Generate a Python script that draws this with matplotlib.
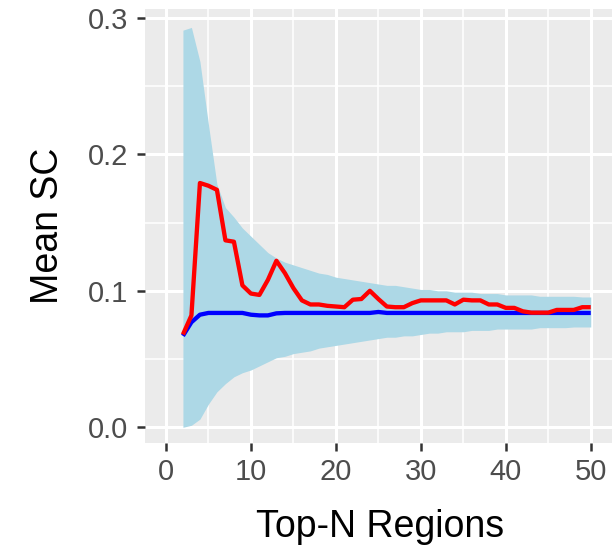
import matplotlib
matplotlib.use("Agg")
import matplotlib.pyplot as plt
from matplotlib.ticker import MultipleLocator

top_n = list(range(2, 51))
ribbon_upper = [0.291, 0.293, 0.268, 0.222, 0.178, 0.161, 0.154, 0.146, 0.140, 0.134,
                0.128, 0.124, 0.121, 0.119, 0.117, 0.115, 0.113, 0.112, 0.110, 0.109,
                0.108, 0.107, 0.106, 0.105, 0.104, 0.104, 0.103, 0.102, 0.101, 0.101,
                0.100, 0.100, 0.099, 0.099, 0.099, 0.098, 0.098, 0.098, 0.097, 0.097,
                0.097, 0.097, 0.096, 0.096, 0.096, 0.096, 0.096, 0.0955, 0.0955]
ribbon_lower = [0.000, 0.0015, 0.006, 0.017, 0.026, 0.032, 0.037, 0.040, 0.042, 0.045,
                0.048, 0.051, 0.052, 0.054, 0.055, 0.056, 0.058, 0.059, 0.060, 0.061,
                0.062, 0.063, 0.064, 0.065, 0.066, 0.066, 0.067, 0.067, 0.068, 0.069,
                0.069, 0.070, 0.070, 0.070, 0.071, 0.071, 0.071, 0.072, 0.072, 0.072,
                0.072, 0.072, 0.073, 0.073, 0.073, 0.073, 0.0735, 0.0735, 0.0735]
observed_sc = [0.068, 0.082, 0.179, 0.177, 0.174, 0.137, 0.136, 0.104, 0.098, 0.097,
               0.108, 0.122, 0.113, 0.102, 0.093, 0.090, 0.090, 0.089, 0.0885, 0.088,
               0.0935, 0.094, 0.100, 0.094, 0.0885, 0.088, 0.088, 0.091, 0.093, 0.093,
               0.093, 0.093, 0.090, 0.0935, 0.093, 0.093, 0.090, 0.090, 0.0875, 0.0875,
               0.085, 0.084, 0.084, 0.084, 0.086, 0.086, 0.086, 0.088, 0.088]
expected_sc = [0.067, 0.077, 0.0825, 0.0838, 0.0838, 0.0838, 0.0838, 0.0838, 0.0825, 0.082,
               0.082, 0.0835, 0.0838, 0.0838, 0.0838, 0.0838, 0.0838, 0.0838, 0.0838, 0.0838,
               0.0838, 0.0838, 0.0838, 0.0845, 0.0838, 0.0838, 0.0838, 0.0838, 0.0838, 0.0838,
               0.0838, 0.0838, 0.0838, 0.0838, 0.0838, 0.0838, 0.0838, 0.0838, 0.0838, 0.0838,
               0.0838, 0.0838, 0.0838, 0.0838, 0.0838, 0.0838, 0.0838, 0.0838, 0.0838]
x_ticks = [0, 10, 20, 30, 40, 50]
y_ticks = [0.0, 0.1, 0.2, 0.3]
x_label = "Top-N Regions"
y_label = "Mean SC"

plt.rcParams['font.family'] = ['Liberation Sans', 'DejaVu Sans']

W, H = 615, 555
fig = plt.figure(figsize=(W / 100, H / 100), dpi=100)
left, right, top, bottom = 144.7, 612.0, 9.0, 443.0
ax = fig.add_axes([left / W, 1 - bottom / H, (right - left) / W, (bottom - top) / H])
ax.set_facecolor("#EBEBEB")

ax.fill_between(top_n, ribbon_lower, ribbon_upper, color="#ADD8E6", linewidth=0, zorder=2)
ax.plot(top_n, expected_sc, color="blue", linewidth=3.1, zorder=3, solid_capstyle="butt")
ax.plot(top_n, observed_sc, color="red", linewidth=3.1, zorder=4, solid_capstyle="butt")

ax.set_xlim(-2.5, 52.5)
ax.set_ylim(-0.0115, 0.3065)
ax.set_xticks(x_ticks)
ax.set_yticks(y_ticks)
ax.set_xticklabels([str(t) for t in x_ticks])
ax.set_yticklabels([f"{t:.1f}" for t in y_ticks])
ax.xaxis.set_minor_locator(MultipleLocator(5))
ax.yaxis.set_minor_locator(MultipleLocator(0.05))

ax.grid(which="major", color="white", linewidth=2.2, zorder=1)
ax.grid(which="minor", color="white", linewidth=1.1, zorder=1)
ax.set_axisbelow(True)
for s in ax.spines.values():
    s.set_visible(False)

ax.tick_params(which="major", length=5.5, width=1.8, color="#333333",
               labelcolor="#4D4D4D", labelsize=21)
ax.tick_params(axis="x", which="major", pad=5)
ax.tick_params(axis="y", which="major", pad=6.5)
ax.tick_params(which="minor", length=0)

fig.text(380 / W, 1 - 537 / H, x_label, fontsize=27, color="black",
         ha="center", va="baseline")
fig.text(48 / W, 1 - 226 / H, y_label, fontsize=27, color="black",
         ha="center", va="center", rotation=90)

fig.savefig("out.png", dpi=100)
